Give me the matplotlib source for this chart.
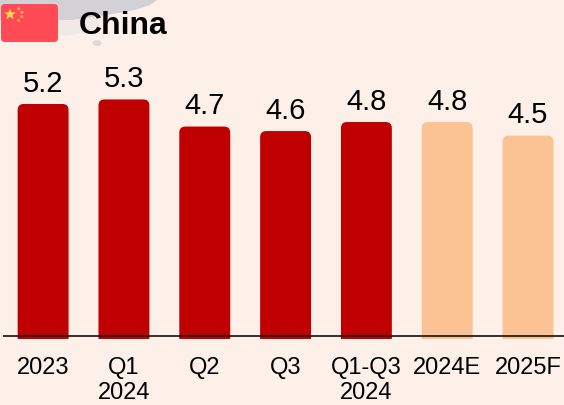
import matplotlib
matplotlib.use("Agg")
import matplotlib.pyplot as plt
from matplotlib.patches import FancyBboxPatch, Polygon, Ellipse

plt.rcParams['font.family'] = ['Liberation Sans', 'DejaVu Sans']

# GDP growth, percent
labels = ["2023", "Q1\n2024", "Q2", "Q3", "Q1-Q3\n2024", "2024E", "2025F"]
values = [5.2, 5.3, 4.7, 4.6, 4.8, 4.8, 4.5]
colors = ["#C00000"] * 5 + ["#FBC294"] * 2
title = "China"

W, H = 564, 405
bg = "#FDF0E8"
fig = plt.figure(figsize=(W / 100, H / 100), dpi=100, facecolor=bg)

# one overlay in pixel coordinates for the flag and the faded map
px = fig.add_axes([0, 0, 1, 1])
px.set_xlim(0, W)
px.set_ylim(H, 0)
px.axis("off")

# faded map shapes behind everything
px.add_patch(Polygon([(0, 0), (157, 0), (150, 5), (135, 10), (112, 14), (95, 17),
                      (72, 20), (0, 20)], fc="#D3D1D6", ec="none"))
px.add_patch(Polygon([(50, 20), (72, 20), (95, 17), (100, 26), (78, 34), (50, 38)],
                     fc="#F1E9E6", ec="none"))
px.add_patch(Ellipse((97, 43), 9, 6, color="#E0D9D6", lw=0))

# flag
px.add_patch(FancyBboxPatch((1, 4), 57, 38, boxstyle="round,pad=0,rounding_size=4",
                            fc="#FF4B55", ec="none"))
px.add_patch(Polygon([(10, 8.5), (11.5, 12.4), (15.8, 12.5), (12.4, 15), (13.6, 19.2),
                      (10, 16.8), (6.4, 19.2), (7.6, 15), (4.2, 12.5), (8.5, 12.4)],
                     fc="#FFD950", ec="none"))
for sx, sy in [(18.7, 8.7), (22, 12.3), (21.7, 16.7), (18.7, 20.7)]:
    px.add_patch(Ellipse((sx, sy), 2.8, 2.8, fc="#FFB84D", ec="none"))

px.text(79, 26, title, fontsize=23, fontweight="bold", color="#000000",
        ha="left", va="center")

# bars: data 0 sits at y=339 px, 45.2 px per percentage point
left, right, bottom, top = 2.7, 564, 339, 0
ax = fig.add_axes([left / W, 1 - bottom / H, (right - left) / W, (bottom - top) / H])
ax.patch.set_alpha(0)
ax.set_xlim(-0.5, 6.445)
ax.set_ylim(0, (bottom - top) / 45.2)

bars = ax.bar(range(len(values)), values, width=0.63, color=colors)
for rect, c in zip(bars, colors):
    x, w, h = rect.get_x(), rect.get_width(), rect.get_height()
    rect.set_visible(False)
    # rounded top corners, the square base is cut off by the axes clip
    ax.add_patch(FancyBboxPatch((x, -0.3), w, h + 0.3,
                                boxstyle="round,pad=0,rounding_size=0.075",
                                mutation_aspect=80.8 / 45.2,
                                fc=c, ec="none"))

for i, v in enumerate(values):
    ax.annotate(f"{v:.1f}", (i, v), xytext=(0, 4.5), textcoords="offset points",
                ha="center", va="bottom", fontsize=21, color="#000000")

for s in ax.spines.values():
    s.set_visible(False)
ax.set_yticks([])
ax.set_xticks(range(len(labels)))
ax.set_xticklabels(labels, fontsize=17, color="#000000", linespacing=1.2)
ax.tick_params(axis="x", length=0, pad=13)

# baseline runs a little above the foot of the bars
ax.axhline(3 / 45.2, color="#111111", lw=1.2, zorder=5)

fig.savefig("out.png", dpi=100, facecolor=bg)
